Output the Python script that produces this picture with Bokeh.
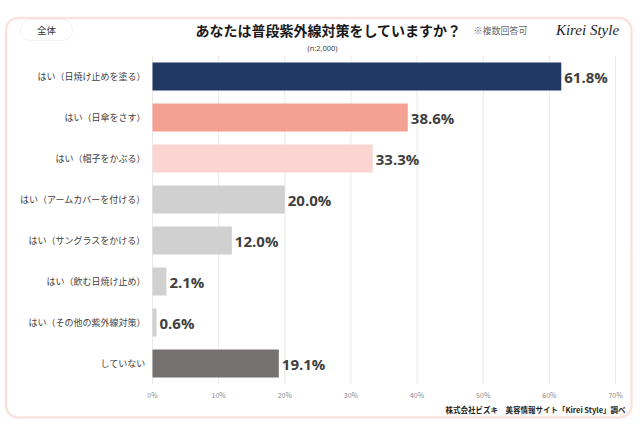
from bokeh.plotting import figure
from bokeh.models import Label, BoxAnnotation, ColumnDataSource, Range1d
from bokeh.embed import file_html
from bokeh.resources import INLINE
from bokeh.core.properties import value

categories = ["はい（日焼け止めを塗る）", "はい（日傘をさす）", "はい（帽子をかぶる）",
              "はい（アームカバーを付ける）", "はい（サングラスをかける）", "はい（飲む日焼け止め）",
              "はい（その他の紫外線対策）", "していない"]
values = [61.8, 38.6, 33.3, 20.0, 12.0, 2.1, 0.6, 19.1]
colors = ["#203864", "#F4A193", "#FBD5D2", "#D0D0D0", "#D0D0D0", "#D0D0D0", "#D0D0D0", "#767171"]
ticks = [0, 10, 20, 30, 40, 50, 60, 70]
tick_labels = ["0%", "10%", "20%", "30%", "40%", "50%", "60%", "70%"]

JP = "Noto Sans CJK JP"
W, H = 634, 420
PX = 463 / 70.0      # pixels per percentage point
ROW = 41.0           # pixels per category row
X0, Y0 = 152, 76     # canvas position of 0% / first row centre

n = len(categories)
rows = list(range(n))

src = ColumnDataSource(dict(cat=categories, row=rows, val=values, color=colors,
                            label=["%.1f%%" % v for v in values]))
tsrc = ColumnDataSource(dict(t=ticks, lab=tick_labels))

p = figure(width=W, height=H,
           x_range=Range1d(-X0 / PX, 70 + (W - 615) / PX),
           y_range=Range1d((H - Y0) / ROW, -Y0 / ROW),
           output_backend="svg", toolbar_location=None, title=None,
           x_axis_location=None, y_axis_location=None,
           min_border=0, min_border_left=0, min_border_right=0, min_border_top=0, min_border_bottom=0)
p.background_fill_color = "white"
p.border_fill_color = "white"
p.outline_line_color = None
p.grid.grid_line_color = None

# grid lines
p.segment(x0="t", x1="t", y0=-0.5, y1=n - 0.5, line_color="#EAEAEA", line_width=1, source=tsrc)

# bars
p.hbar(y="row", right="val", left=0, height=0.68, fill_color="color", line_color=None, source=src)

# value labels
p.text(x="val", y="row", text="label", x_offset=3, text_baseline="middle", text_align="left",
       text_font_size="15px", text_font_style="bold", text_color="#404040",
       text_font=value("Open Sans"), source=src)

# category labels
p.text(x=0, y="row", text="cat", x_offset=-7, text_baseline="middle", text_align="right",
       text_font_size="9px", text_color="#404040", text_font=value(JP), source=src)

# tick labels
p.text(x="t", y=n - 0.24, text="lab", text_baseline="middle", text_align="center",
       text_font_size="7px", text_color="#8C8C8C", text_font=value(JP), source=tsrc)

def sy(canvas_y):
    return H - canvas_y

scr = dict(left_units="screen", right_units="screen", top_units="screen", bottom_units="screen")
p.add_layout(BoxAnnotation(left=5.5, right=631, top=sy(17.5), bottom=sy(417), fill_alpha=0,
                           line_color="#EE9F93", line_width=2.5, border_radius=12, **scr))
p.add_layout(BoxAnnotation(left=20, right=72, top=sy(19), bottom=sy(40), fill_color="white", fill_alpha=1,
                           line_color="#D4D4D4", line_width=1, border_radius=10, **scr))

def lab(x, y, text, **kw):
    p.add_layout(Label(x=x, y=sy(y), x_units="screen", y_units="screen", text=text,
                       text_baseline="middle", **kw))

lab(46, 29.5, "全体", text_align="center", text_font_size="9.5px", text_color="#333333", text_font=JP)
lab(195, 29, "あなたは普段紫外線対策をしていますか？", text_align="left", text_font_size="14px",
    text_font_style="bold", text_color="#1A1A1A", text_font=JP)
lab(473, 29.5, "※複数回答可", text_align="left", text_font_size="9px", text_color="#666666", text_font=JP)
lab(322, 47, "(n:2,000)", text_align="center", text_font_size="7.5px", text_color="#333333",
    text_font="Open Sans")
lab(587, 29, "Kirei Style", text_align="center", text_font_size="15px", text_font_style="italic",
    text_color="#222222", text_font="Liberation Serif")
lab(625, 409, "株式会社ビズキ　美容情報サイト「Kirei Style」調べ", text_align="right",
    text_font_size="7.5px", text_font_style="bold", text_color="#222222", text_font=JP)

open("out.html", "w").write(file_html(p, INLINE))
